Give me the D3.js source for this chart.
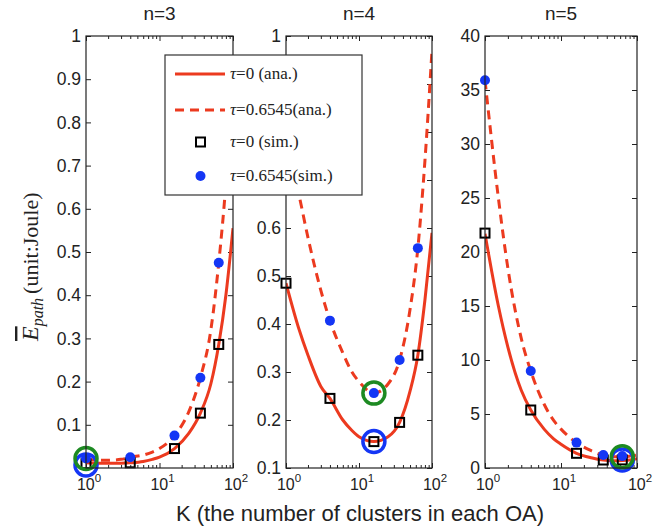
<!DOCTYPE html>
<html>
<head>
<meta charset="utf-8">
<script src="https://cdn.jsdelivr.net/npm/d3@7"></script>
<style>
  html, body { margin: 0; padding: 0; background: #fff; }
  svg { display: block; }
</style>
</head>
<body>
<svg id="chart" width="666" height="529"></svg>
<script>
// K values
const kSim = [1, 4, 16, 36, 64];
const kAna = [1, 1.5, 2, 3, 4, 6, 8, 10, 16, 25, 36, 50, 64, 80, 100];

// n=3
const ana3Tau0 = [0.012, 0.011, 0.011, 0.011, 0.012, 0.015, 0.02, 0.025, 0.045, 0.08, 0.127, 0.195, 0.286, 0.4, 0.555];
const ana3Tau1 = [0.02, 0.018, 0.018, 0.02, 0.025, 0.03, 0.037, 0.045, 0.075, 0.13, 0.209, 0.32, 0.475, 0.66, 0.93];
const sim3Tau0 = [0.01, 0.012, 0.045, 0.127, 0.286];
const sim3Tau1 = [0.022, 0.025, 0.075, 0.209, 0.475];
// n=4
const ana4Tau0 = [0.485, 0.39, 0.335, 0.27, 0.245, 0.2, 0.178, 0.165, 0.155, 0.165, 0.195, 0.26, 0.335, 0.45, 0.59];
const ana4Tau1 = [0.78, 0.67, 0.58, 0.47, 0.407, 0.34, 0.3, 0.28, 0.256, 0.275, 0.325, 0.43, 0.558, 0.74, 0.97];
const sim4Tau0 = [0.485, 0.245, 0.155, 0.195, 0.335];
const sim4Tau1 = [0.78, 0.407, 0.256, 0.325, 0.558];
// n=5
const ana5Tau0 = [21.7, 15, 11.2, 7.2, 5.37, 3.6, 2.7, 2.2, 1.36, 0.95, 0.74, 0.68, 0.7, 0.75, 0.85];
const ana5Tau1 = [35.9, 25, 18.5, 12, 8.98, 5.9, 4.4, 3.6, 2.35, 1.6, 1.2, 1.05, 1.05, 1.1, 1.2];
const sim5Tau0 = [21.75, 5.37, 1.36, 0.74, 0.75];
const sim5Tau1 = [35.9, 8.98, 2.35, 1.2, 1.1];

// optimum markers (blue ring: tau=0, green ring: tau=0.6545)
const optK = [1, 16, 64];
const optTau0 = [0.007, 0.155, 0.75];
const optTau1 = [0.022, 0.256, 1.05];

const titles = ['n=3', 'n=4', 'n=5'];
const yDomains = [[0, 1], [0.1, 1], [0, 40]];
const yTicks = [
  [0.1, 0.2, 0.3, 0.4, 0.5, 0.6, 0.7, 0.8, 0.9, 1],
  [0.1, 0.2, 0.3, 0.4, 0.5, 0.6, 0.7, 0.8, 0.9, 1],
  [0, 5, 10, 15, 20, 25, 30, 35, 40]
];
// tick labels that sit under the legend box in the middle panel
const hiddenLabels = [[], [0.7, 0.8, 0.9], []];
const xMajor = [1, 10, 100];
const xMinor = [2, 3, 4, 5, 6, 7, 8, 9, 20, 30, 40, 50, 60, 70, 80, 90];

const legendLabels = ['=0 (ana.)', '=0.6545(ana.)', '=0 (sim.)', '=0.6545(sim.)'];

const anaT0 = [ana3Tau0, ana4Tau0, ana5Tau0];
const anaT1 = [ana3Tau1, ana4Tau1, ana5Tau1];
const simT0 = [sim3Tau0, sim4Tau0, sim5Tau0];
const simT1 = [sim3Tau1, sim4Tau1, sim5Tau1];

const RED = '#ec3a1f', BLUE = '#1436f5', GREEN = '#1d8a22';
const lefts = [86, 286, 485], rights = [233, 432, 637];
const plotTop = 36, plotBottom = 468;

const svg = d3.select('#chart');
const sans = 'Arial, "Liberation Sans", Helvetica, sans-serif';
const serif = '"Liberation Serif", "DejaVu Serif", serif';

titles.forEach((title, i) => {
  const x = d3.scaleLog().domain([1, 100]).range([lefts[i], rights[i]]);
  const y = d3.scaleLinear().domain(yDomains[i]).range([plotBottom, plotTop]);
  const g = svg.append('g');

  g.append('clipPath').attr('id', 'clip' + i)
    .append('rect').attr('x', lefts[i]).attr('y', plotTop)
    .attr('width', rights[i] - lefts[i]).attr('height', plotBottom - plotTop);

  // axes (ticks pointing inward, mirrored)
  const fmt = d3.format('.1~f');
  const yl = g.append('g').attr('transform', `translate(${lefts[i]},0)`)
    .call(d3.axisLeft(y).tickValues(yTicks[i]).tickSize(-5).tickSizeOuter(0).tickPadding(5)
      .tickFormat(d => hiddenLabels[i].includes(d) ? '' : fmt(d)));
  const yr = g.append('g').attr('transform', `translate(${rights[i]},0)`)
    .call(d3.axisRight(y).tickValues(yTicks[i]).tickSize(-5).tickSizeOuter(0).tickFormat(''));
  const xb = g.append('g').attr('transform', `translate(0,${plotBottom})`)
    .call(d3.axisBottom(x).tickValues(xMajor).tickSize(-5).tickSizeOuter(0).tickFormat(''));
  const xbm = g.append('g').attr('transform', `translate(0,${plotBottom})`)
    .call(d3.axisBottom(x).tickValues(xMinor).tickSize(-3).tickSizeOuter(0).tickFormat(''));
  const xt = g.append('g').attr('transform', `translate(0,${plotTop})`)
    .call(d3.axisTop(x).tickValues(xMajor).tickSize(-5).tickSizeOuter(0).tickFormat(''));
  const xtm = g.append('g').attr('transform', `translate(0,${plotTop})`)
    .call(d3.axisTop(x).tickValues(xMinor).tickSize(-3).tickSizeOuter(0).tickFormat(''));
  [yl, yr, xb, xbm, xt, xtm].forEach(a => {
    a.select('.domain').remove();
    a.selectAll('line').attr('stroke', '#222');
    a.selectAll('text').attr('font-family', sans).attr('font-size', 17.5).attr('fill', '#222');
  });
  yl.selectAll('text').filter(function () { return this.textContent === ''; }).remove();

  // x tick labels 10^k
  xMajor.forEach((v, k) => {
    const t = g.append('text').attr('x', x(v) + 3).attr('y', plotBottom + 22)
      .attr('text-anchor', 'middle').attr('font-family', sans).attr('font-size', 16).attr('fill', '#222');
    t.append('tspan').text('10');
    t.append('tspan').attr('dy', -8).attr('font-size', 11.5).text(k);
  });

  // title
  g.append('text').attr('x', (lefts[i] + rights[i]) / 2).attr('y', 20)
    .attr('text-anchor', 'middle').attr('font-family', sans).attr('font-size', 19).attr('fill', '#222')
    .text(title);

  // analytical curves
  const line = d3.line().x(d => x(d[0])).y(d => y(d[1])).curve(d3.curveMonotoneX);
  const plot = g.append('g').attr('clip-path', `url(#clip${i})`);
  plot.append('path').datum(kAna.map((k, j) => [k, anaT0[i][j]]))
    .attr('d', line).attr('fill', 'none').attr('stroke', RED).attr('stroke-width', 3);
  plot.append('path').datum(kAna.map((k, j) => [k, anaT1[i][j]]))
    .attr('d', line).attr('fill', 'none').attr('stroke', RED).attr('stroke-width', 3)
    .attr('stroke-dasharray', '9,6');

  // simulation markers
  g.selectAll('.sq').data(kSim.map((k, j) => [k, simT0[i][j]])).join('rect')
    .attr('x', d => x(d[0]) - 4.5).attr('y', d => y(d[1]) - 4.5)
    .attr('width', 9).attr('height', 9)
    .attr('fill', 'none').attr('stroke', '#000').attr('stroke-width', 2);
  g.selectAll('.dot').data(kSim.map((k, j) => [k, simT1[i][j]])).join('circle')
    .attr('cx', d => x(d[0])).attr('cy', d => y(d[1])).attr('r', 5).attr('fill', BLUE);

  // optimum rings
  g.append('circle').attr('cx', x(optK[i])).attr('cy', y(optTau0[i])).attr('r', 11)
    .attr('fill', 'none').attr('stroke', BLUE).attr('stroke-width', 3.5);
  g.append('circle').attr('cx', x(optK[i])).attr('cy', y(optTau1[i])).attr('r', 11)
    .attr('fill', 'none').attr('stroke', GREEN).attr('stroke-width', 3.5);

  // frame
  g.append('rect').attr('x', lefts[i]).attr('y', plotTop)
    .attr('width', rights[i] - lefts[i]).attr('height', plotBottom - plotTop)
    .attr('fill', 'none').attr('stroke', '#222').attr('stroke-width', 1.2);
});

// x label
svg.append('text').attr('x', 360).attr('y', 521).attr('text-anchor', 'middle')
  .attr('font-family', sans).attr('font-size', 22).attr('fill', '#222')
  .text('K (the number of clusters in each OA)');

// y label
const ylab = svg.append('text').attr('transform', 'translate(38,341) rotate(-90)')
  .attr('text-anchor', 'start').attr('font-family', serif).attr('fill', '#222');
ylab.append('tspan').attr('font-style', 'italic').attr('font-size', 24)
  .attr('text-decoration', 'overline').text('E');
ylab.append('tspan').attr('font-style', 'italic').attr('font-size', 16).attr('dy', 5).text('path');
ylab.append('tspan').attr('font-size', 22).attr('dy', -5).attr('dx', 4).text('(unit:Joule)');

// legend
const lg = svg.append('g');
lg.append('rect').attr('x', 165).attr('y', 55).attr('width', 197).attr('height', 140)
  .attr('fill', '#fff').attr('stroke', '#333').attr('stroke-width', 1.2);
const rowY = [74, 110, 142, 176];
lg.append('line').attr('x1', 175).attr('x2', 225).attr('y1', rowY[0]).attr('y2', rowY[0])
  .attr('stroke', RED).attr('stroke-width', 3);
lg.append('line').attr('x1', 175).attr('x2', 225).attr('y1', rowY[1]).attr('y2', rowY[1])
  .attr('stroke', RED).attr('stroke-width', 3).attr('stroke-dasharray', '9,6');
lg.append('rect').attr('x', 196).attr('y', rowY[2] - 4.5).attr('width', 9).attr('height', 9)
  .attr('fill', 'none').attr('stroke', '#000').attr('stroke-width', 2);
lg.append('circle').attr('cx', 200.5).attr('cy', rowY[3]).attr('r', 5).attr('fill', BLUE);
legendLabels.forEach((lab, j) => {
  const t = lg.append('text').attr('x', 230).attr('y', rowY[j] + 5)
    .attr('font-family', serif).attr('font-size', 17).attr('fill', '#222');
  t.append('tspan').attr('font-style', 'italic').text('τ');
  t.append('tspan').text(lab);
});
</script>
</body>
</html>
